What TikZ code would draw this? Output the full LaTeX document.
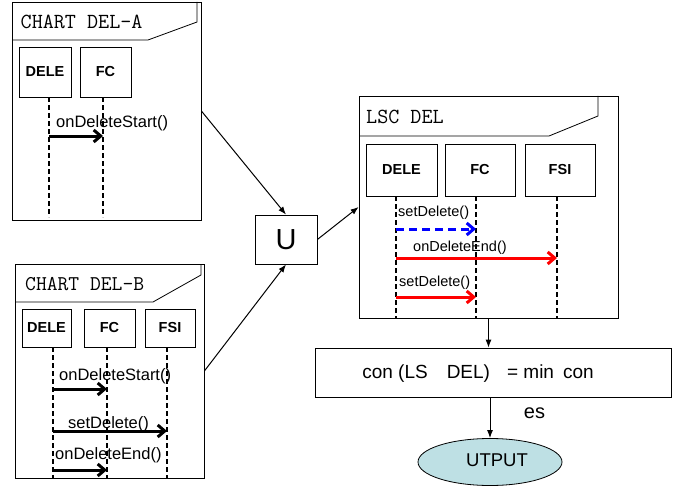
\documentclass[tikz,border=0pt]{standalone}
\usepackage{fontspec}
\setmainfont{Liberation Sans}
\usetikzlibrary{arrows.meta,shapes.geometric}
\definecolor{outfill}{RGB}{190,224,228}
\begin{document}
\begin{tikzpicture}[x=1pt,y=-1pt,
  frame/.style={draw,line width=0.8pt,inner sep=0pt},
  head/.style={draw,line width=0.8pt,inner sep=0pt,font=\fontsize{14.5}{16}\selectfont\bfseries},
  title/.style={anchor=west,inner sep=0pt,font=\fontsize{21.5}{24}\selectfont\ttfamily},
  life/.style={line width=1.6pt,dash pattern=on 5pt off 3pt},
  msg/.style={line width=3pt,-{Straight Barb[length=7pt,width=12pt]}},
  lbl/.style={anchor=west,inner sep=0pt,font=\fontsize{16.5}{18}\selectfont},
  lsclbl/.style={anchor=west,inner sep=0pt,font=\fontsize{14.5}{16}\selectfont},
  link/.style={line width=1pt,-{Latex[length=8pt,width=6pt]}}]
\useasboundingbox (0,0) rectangle (678,487);
\node[frame,minimum width=189pt,minimum height=218pt] (chartA) at (106.5,111) {};
\draw[line width=0.8pt] (12,40) -- (148,40) -- (197,22) -- (197,2);
\node[title] (titleA) at (20.5,22) {CHART DEL-A};
\node[head,minimum width=52pt,minimum height=50pt] (aDele) at (45,72) {DELE};
\node[head,minimum width=51pt,minimum height=50pt] (aFc) at (105.5,72) {FC};
\coordinate (aDeleL) at ([xshift=4pt]aDele.south);
\coordinate (aFcL) at ([xshift=-2.5pt]aFc.south);
\draw[life] (aDeleL) -- ++(0,120);
\draw[life] (aFcL) -- ++(0,120);
\draw[msg] (aDeleL |- 0,136) -- (aFcL |- 0,136);
\node[lbl] (aStart) at (56,123) {onDeleteStart()};
\node[frame,minimum width=189pt,minimum height=214pt] (chartB) at (109.5,371) {};
\draw[line width=0.8pt] (15,302) -- (153,302) -- (201,275) -- (201,264);
\node[title,font=\fontsize{21}{24}\selectfont\ttfamily] (titleB) at (25,284) {CHART DEL-B};
\node[head,minimum width=49pt,minimum height=38pt] (bDele) at (46.5,328) {DELE};
\node[head,minimum width=51pt,minimum height=38pt] (bFc) at (109.5,328) {FC};
\node[head,minimum width=50pt,minimum height=38pt] (bFsi) at (170,328) {FSI};
\coordinate (bDeleL) at ([xshift=6.5pt]bDele.south);
\coordinate (bFcL) at ([xshift=-2.5pt]bFc.south);
\coordinate (bFsiL) at ([xshift=-3pt]bFsi.south);
\draw[life] (bDeleL) -- ++(0,131);
\draw[life] (bFcL) -- ++(0,131);
\draw[life] (bFsiL) -- ++(0,131);
\draw[msg] (bDeleL |- 0,389) -- (bFcL |- 0,389);
\draw[msg] (bDeleL |- 0,431) -- (bFsiL |- 0,431);
\draw[msg] (bDeleL |- 0,470) -- (bFcL |- 0,470);
\node[lbl] (bStart) at (59,376) {onDeleteStart()};
\node[lbl] (bSet) at (68,424) {setDelete()};
\node[lbl] (bEnd) at (55,455) {onDeleteEnd()};
\node[draw,line width=0.8pt,minimum width=62pt,minimum height=49pt,inner sep=0pt,font=\fontsize{29}{32}\selectfont] (u) at (286,239.5) {U};
\node[frame,minimum width=259pt,minimum height=222pt] (lsc) at (488.5,207) {};
\draw[line width=0.8pt] (359,136) -- (549,136) -- (598,116) -- (598,96);
\node[title] (titleL) at (366,116.5) {LSC DEL};
\node[head,minimum width=71pt,minimum height=52pt] (lDele) at (401.5,170) {DELE};
\node[head,minimum width=70pt,minimum height=52pt] (lFc) at (480,170) {FC};
\node[head,minimum width=70pt,minimum height=52pt] (lFsi) at (560,170) {FSI};
\coordinate (lDeleL) at ([xshift=-5.5pt]lDele.south);
\coordinate (lFcL) at ([xshift=-4pt]lFc.south);
\coordinate (lFsiL) at ([xshift=-3pt]lFsi.south);
\draw[life] (lDeleL) -- ++(0,122);
\draw[life] (lFcL) -- ++(0,122);
\draw[life] (lFsiL) -- ++(0,122);
\draw[msg,blue,dash pattern=on 8pt off 5pt] (lDeleL |- 0,229) -- (lFcL |- 0,229);
\draw[msg,red] (lDeleL |- 0,258) -- (lFsiL |- 0,258);
\draw[msg,red] (lDeleL |- 0,297) -- (lFcL |- 0,297);
\node[lsclbl] (lSetA) at (398,213) {setDelete()};
\node[lsclbl] (lEnd) at (413,248) {onDeleteEnd()};
\node[lsclbl] (lSetB) at (399,283) {setDelete()};
\node[frame,minimum width=356pt,minimum height=49pt] (formula) at (493,372.5) {};
\node[inner sep=0pt,font=\fontsize{19}{21}\selectfont] (formulaText) at (478,374) {con (LS\hspace{19pt}DEL)\hspace{17pt}= min\hspace{9pt}con};
\node[ellipse,draw,line width=0.8pt,fill=outfill,minimum width=144pt,minimum height=47pt,inner sep=0pt] (out) at (490,462) {};
\node[inner sep=0pt,font=\fontsize{18.5}{20}\selectfont] (outText) at ([xshift=7pt,yshift=2pt]out.center) {UTPUT};
\node[inner sep=0pt,font=\fontsize{20}{22}\selectfont] (es) at (534.5,413) {es};
\draw[link] (chartA.east) -- (u.north);
\draw[link] (chartB.east) -- (u.south);
\draw[link] (u.east) -- (lsc.west);
\draw[link] (lsc.south) -- (lsc.south |- formula.north);
\draw[link] (out.north |- formula.south) -- (out.north);
\end{tikzpicture}
\end{document}
